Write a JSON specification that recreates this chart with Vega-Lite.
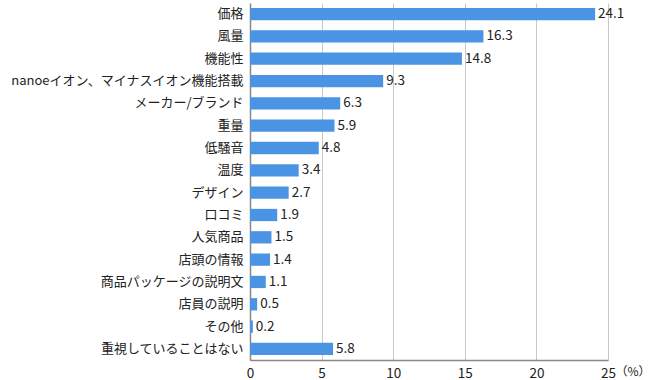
{
  "$schema": "https://vega.github.io/schema/vega-lite/v6.json",
  "autosize": {"type": "none"},
  "width": 358,
  "height": 357,
  "padding": {"left": 250, "top": 3, "right": 42, "bottom": 20},
  "background": "white",
  "config": {"view": {"stroke": null}, "font": "Noto Sans CJK JP"},
  "data": {"values": [
    {"item": "価格", "value": 24.1},
    {"item": "風量", "value": 16.3},
    {"item": "機能性", "value": 14.8},
    {"item": "nanoeイオン、マイナスイオン機能搭載", "value": 9.3},
    {"item": "メーカー/ブランド", "value": 6.3},
    {"item": "重量", "value": 5.9},
    {"item": "低騒音", "value": 4.8},
    {"item": "温度", "value": 3.4},
    {"item": "デザイン", "value": 2.7},
    {"item": "口コミ", "value": 1.9},
    {"item": "人気商品", "value": 1.5},
    {"item": "店頭の情報", "value": 1.4},
    {"item": "商品パッケージの説明文", "value": 1.1},
    {"item": "店員の説明", "value": 0.5},
    {"item": "その他", "value": 0.2},
    {"item": "重視していることはない", "value": 5.8}
  ]},
  "encoding": {
    "y": {"field": "item", "type": "nominal", "sort": null,
      "scale": {"paddingInner": 0.45, "paddingOuter": 0.22},
      "axis": {"title": null, "ticks": false, "labelPadding": 7, "labelFontSize": 13, "labelColor": "#222", "domainColor": "#888", "domainWidth": 1.5, "labelFont": "Noto Sans CJK JP", "labelLimit": 300}},
    "x": {"field": "value", "type": "quantitative",
      "scale": {"domain": [0, 25], "nice": false},
      "axis": {"values": [0, 5, 10, 15, 20, 25], "ticks": false, "labelPadding": 6, "labelFontSize": 13.5, "labelColor": "#222", "domainColor": "#888", "domainWidth": 1.5, "gridColor": "#c8c8c8", "grid": true, "labelFlush": false,
        "title": "（%）", "titleX": 365, "titleY": 6, "titleAlign": "left", "titleBaseline": "top", "titleFontWeight": "normal", "titleFontSize": 12, "titleColor": "#222"}}
  },
  "layer": [
    {"mark": {"type": "bar", "color": "#4a94e3"}},
    {"mark": {"type": "text", "align": "left", "dx": 3, "fontSize": 13.5, "color": "#222"},
      "encoding": {"text": {"field": "value", "type": "quantitative", "format": ".1f"}}}
  ]
}
